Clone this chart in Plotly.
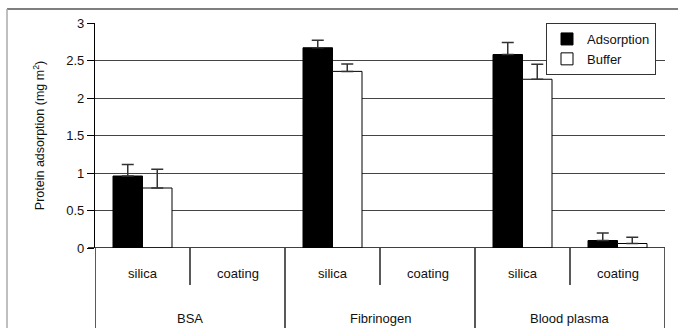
import plotly.graph_objects as go

sub_labels = ["silica", "coating", "silica", "coating", "silica", "coating"]
group_labels = ["BSA", "Fibrinogen", "Blood plasma"]
adsorption = [0.96, None, 2.67, None, 2.58, 0.10]
adsorption_err = [0.155, None, 0.10, None, 0.16, 0.10]
buffer = [0.80, None, 2.355, None, 2.25, 0.06]
buffer_err = [0.25, None, 0.10, None, 0.20, 0.083]
y_ticks = [0, 0.5, 1, 1.5, 2, 2.5, 3]
y_ticklabels = ["0", "0.5", "1", "1.5", "2", "2.5", "3"]

xpos = list(range(len(sub_labels)))
FONT = "Liberation Sans, Arial, Helvetica, sans-serif"

fig = go.Figure()
fig.add_trace(go.Bar(
    x=xpos, y=adsorption, name="Adsorption",
    marker=dict(color="black", line=dict(color="black", width=1)),
    error_y=dict(type="data", array=adsorption_err, arrayminus=[0]*6, symmetric=False,
                 color="#333", thickness=1.5, width=6),
))
fig.add_trace(go.Bar(
    x=xpos, y=buffer, name="Buffer",
    marker=dict(color="white", line=dict(color="black", width=1)),
    error_y=dict(type="data", array=buffer_err, arrayminus=[0]*6, symmetric=False,
                 color="#333", thickness=1.5, width=6),
))

# pixel -> paper helpers (plot area: x 95..665, y 23..248)
def px(x):
    return (x - 95) / 570.0

def py(y):
    return (248 - y) / 225.0

shapes = []
shapes.append(dict(type="line", xref="paper", yref="y", x0=px(88), x1=1, y0=0, y1=0,
                   line=dict(color="black", width=1.3)))
n = len(sub_labels)
for k in range(n + 1):
    xk = k - 0.5
    long = (k % 2 == 0)
    shapes.append(dict(type="line", xref="x", yref="paper", x0=xk, x1=xk,
                       y0=0, y1=py(330) if long else py(285),
                       line=dict(color="black", width=1.3)))
shapes.append(dict(type="line", xref="paper", yref="paper", x0=px(7), x1=px(680),
                   y0=py(9), y1=py(9), line=dict(color="#555", width=1.5)))
shapes.append(dict(type="line", xref="paper", yref="paper", x0=px(7), x1=px(7),
                   y0=py(9), y1=py(330), line=dict(color="#aaa", width=1.5)))

annotations = []
for k, lab in enumerate(sub_labels):
    annotations.append(dict(x=k, y=py(273), xref="x", yref="paper", text=lab,
                            showarrow=False, font=dict(size=13, color="#111", family=FONT),
                            xanchor="center", yanchor="middle"))
for g, lab in enumerate(group_labels):
    annotations.append(dict(x=2 * g + 0.5, y=py(318), xref="x", yref="paper", text=lab,
                            showarrow=False, font=dict(size=13, color="#111", family=FONT),
                            xanchor="center", yanchor="middle"))

fig.update_layout(
    width=678, height=328,
    margin=dict(l=95, r=13, t=23, b=80, autoexpand=False),
    paper_bgcolor="white", plot_bgcolor="white",
    barmode="group", bargap=0.379, bargroupgap=0,
    font=dict(family=FONT, size=13, color="#111"),
    showlegend=True,
    legend=dict(x=px(656), y=1.0, xanchor="right", yanchor="top",
                bgcolor="white", bordercolor="#333", borderwidth=1,
                font=dict(size=13, color="#111", family=FONT),
                itemwidth=30, tracegroupgap=0),
    xaxis=dict(range=[-0.5, n - 0.5], showticklabels=False, showgrid=False,
               zeroline=False, showline=False, ticks=""),
    yaxis=dict(range=[0, 3], tickvals=y_ticks, ticktext=y_ticklabels,
               showgrid=True, gridcolor="#444", gridwidth=1.2,
               zeroline=False, showline=True, linecolor="black", linewidth=1.3,
               ticks="outside", ticklen=7, tickcolor="black", tickwidth=1.3,
               tickfont=dict(size=13, color="#111", family=FONT),
               title=dict(text="Protein adsorption (mg m<sup>2</sup>)",
                          font=dict(size=12.5, color="#111", family=FONT), standoff=18)),
    shapes=shapes, annotations=annotations,
)

fig.write_html("out.html", config={"displayModeBar": False},
               post_script="document.body.style.margin='0';document.body.style.overflow='hidden';")
